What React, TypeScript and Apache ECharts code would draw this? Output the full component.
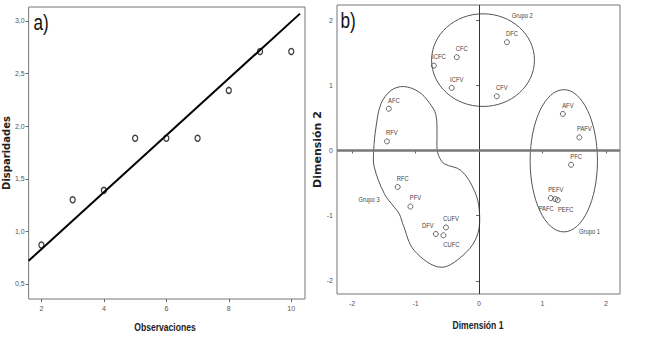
import React, { useEffect, useRef } from "react";
import * as echarts from "echarts";

// ---- Panel a) data ----
const obsX = [2, 3, 4, 5, 6, 7, 8, 9, 10];
const disparidades = [0.87, 1.3, 1.39, 1.885, 1.885, 1.885, 2.34, 2.71, 2.71];
const fitX = [1.59, 10.28];
const fitY = [0.72, 3.07];
const leftXTicks = [2, 4, 6, 8, 10];
const leftYTicks = [0.5, 1.0, 1.5, 2.0, 2.5, 3.0];

// ---- Panel b) data ----
const stimNames = ["DFC", "CFC", "ICFC", "ICFV", "CFV", "AFC", "RFV", "AFV", "PAFV", "PFC", "RFC", "PFV", "DFV", "CUFV", "CUFC", "PEFV", "PAFC", "PEFC"];
const dim1 = [0.44, -0.35, -0.71, -0.43, 0.28, -1.42, -1.45, 1.32, 1.58, 1.45, -1.28, -1.08, -0.68, -0.52, -0.56, 1.13, 1.2, 1.24];
const dim2 = [1.66, 1.43, 1.3, 0.96, 0.83, 0.64, 0.14, 0.56, 0.2, -0.22, -0.56, -0.86, -1.28, -1.18, -1.3, -0.73, -0.745, -0.76];
const rightTicks = [-2, -1, 0, 1, 2];

const groupNames = ["Grupo 1", "Grupo 2", "Grupo 3"];
const groupLabelX = [1.74, 0.68, -1.73];
const groupLabelY = [-1.23, 2.07, -0.75];

// ellipses: Grupo 1, Grupo 2 (center x, center y, radius x, radius y)
const ellipseCX = [1.335, 0.063];
const ellipseCY = [-0.158, 1.385];
const ellipseRX = [0.53, 0.81];
const ellipseRY = [1.09, 0.71];

// Grupo 3 outline
const g3X = [-1.186, -0.95, -0.79, -0.68, -0.661, -0.661, -0.625, -0.546, -0.283, -0.074, 0.005, -0.02, -0.205, -0.598, -1.019, -1.2, -1.255, -1.334, -1.49, -1.649, -1.658, -1.622, -1.543, -1.386];
const g3Y = [0.98, 0.9, 0.74, 0.55, 0.2, 0.026, -0.103, -0.204, -0.307, -0.613, -0.92, -1.278, -1.564, -1.79, -1.534, -1.124, -0.971, -0.87, -0.664, -0.256, 0, 0.357, 0.716, 0.92];

const FONT = "'Liberation Sans', Arial, sans-serif";
const SQUEEZE = 0.78;

const labelOffsets: Record<string, number[]> = {
  DFV: [-8, -9],
  CUFC: [8, 9],
  PAFC: [-9, 9],
  PEFC: [8, 9],
};

export default function App() {
  const ref = useRef<HTMLDivElement>(null);
  useEffect(() => {
    if (!ref.current) return;
    const chart = echarts.init(ref.current, undefined, { renderer: "svg" });
    const tickLabel = { fontSize: 7, color: "#555", fontFamily: FONT };
    const textEl = (text: string, x: number, y: number, size: number, bold: boolean, fill: string) => ({
      type: "text",
      x, y, scaleX: SQUEEZE,
      style: { text, fontSize: size, fontWeight: bold ? "bold" : "normal", fill, fontFamily: FONT, align: "center", verticalAlign: "middle" },
    });
    const option: any = {
      animation: false,
      backgroundColor: "#fff",
      grid: [
        { left: 25, top: 7, width: 280, height: 292, show: true, borderColor: "#777", borderWidth: 1, backgroundColor: "transparent" },
        { left: 337, top: 5, width: 283, height: 289, show: true, borderColor: "#777", borderWidth: 1, backgroundColor: "transparent" },
      ],
      xAxis: [
        {
          gridIndex: 0, type: "value", min: 1.59, max: 10.44,
          axisLine: { show: false }, splitLine: { show: false },
          axisTick: { show: true, customValues: leftXTicks, length: 3, lineStyle: { color: "#666" } },
          axisLabel: { ...tickLabel, customValues: leftXTicks, margin: 6 },
        },
        {
          gridIndex: 1, type: "value", min: -2.236, max: 2.22,
          axisLine: { show: false }, splitLine: { show: false },
          axisTick: { show: true, customValues: rightTicks, length: 3, lineStyle: { color: "#666" } },
          axisLabel: { ...tickLabel, customValues: rightTicks, margin: 6 },
        },
      ],
      yAxis: [
        {
          gridIndex: 0, type: "value", min: 0.357, max: 3.133,
          axisLine: { show: false }, splitLine: { show: false },
          axisTick: { show: true, customValues: leftYTicks, length: 3, lineStyle: { color: "#666" } },
          axisLabel: { ...tickLabel, customValues: leftYTicks, margin: 4, formatter: (v: number) => v.toFixed(1).replace(".", ",") },
          name: "Disparidades", nameLocation: "middle", nameGap: 13,
          nameTextStyle: { fontSize: 10, fontWeight: "bold", color: "#222", fontFamily: "'DejaVu Sans', sans-serif" },
        },
        {
          gridIndex: 1, type: "value", min: -2.2, max: 2.23,
          axisLine: { show: false }, splitLine: { show: false },
          axisTick: { show: true, customValues: rightTicks, length: 3, lineStyle: { color: "#666" } },
          axisLabel: { ...tickLabel, customValues: rightTicks, margin: 4 },
          name: "Dimensión 2", nameLocation: "middle", nameGap: 10,
          nameTextStyle: { fontSize: 11, fontWeight: "bold", color: "#222", fontFamily: "'DejaVu Sans', sans-serif" },
        },
      ],
      graphic: [
        textEl("a)", 41, 22, 22, false, "#111"),
        textEl("b)", 348, 20, 22, false, "#111"),
        textEl("Observaciones", 165, 327, 11, true, "#222"),
        textEl("Dimensión 1", 478, 325, 11, true, "#222"),
      ],
      series: [
        {
          type: "line", xAxisIndex: 0, yAxisIndex: 0,
          data: fitX.map((x, i) => [x, fitY[i]]),
          symbol: "none", lineStyle: { color: "#000", width: 2 },
        },
        {
          type: "scatter", xAxisIndex: 0, yAxisIndex: 0,
          data: obsX.map((x, i) => [x, disparidades[i]]),
          symbol: "circle", symbolSize: [5, 6],
          itemStyle: { color: "rgba(255,255,255,0)", borderColor: "#111", borderWidth: 1.4 },
        },
        {
          type: "custom", xAxisIndex: 1, yAxisIndex: 1,
          data: ellipseCX.map((cx, i) => [cx, ellipseCY[i], ellipseRX[i], ellipseRY[i]]),
          encode: { x: 0, y: 1 },
          renderItem: (params: any, api: any) => {
            const c = api.coord([api.value(0), api.value(1)]);
            const s = api.size([api.value(2), api.value(3)]);
            return {
              type: "ellipse",
              shape: { cx: c[0], cy: c[1], rx: s[0], ry: s[1] },
              style: { fill: "none", stroke: "#555", lineWidth: 1 },
            };
          },
          silent: true,
        },
        {
          type: "custom", xAxisIndex: 1, yAxisIndex: 1,
          data: [[g3X[0], g3Y[0]]],
          encode: { x: 0, y: 1 },
          renderItem: (params: any, api: any) => {
            const pts = g3X.map((x, i) => api.coord([x, g3Y[i]]));
            return {
              type: "polygon",
              shape: { points: pts, smooth: 0.35 },
              style: { fill: "none", stroke: "#555", lineWidth: 1 },
            };
          },
          silent: true,
        },
        {
          type: "custom", xAxisIndex: 1, yAxisIndex: 1,
          data: groupNames.map((n, i) => [groupLabelX[i], groupLabelY[i]]),
          encode: { x: 0, y: 1 },
          renderItem: (params: any, api: any) => {
            const c = api.coord([api.value(0), api.value(1)]);
            return textEl(groupNames[params.dataIndex], c[0], c[1], 7.5, false, "#444");
          },
          silent: true,
        },
        {
          type: "custom", xAxisIndex: 1, yAxisIndex: 1,
          data: stimNames.map((n, i) => [dim1[i], dim2[i]]),
          encode: { x: 0, y: 1 },
          renderItem: (params: any, api: any) => {
            const c = api.coord([api.value(0), api.value(1)]);
            const name = stimNames[params.dataIndex];
            const off = labelOffsets[name] || [5, -9];
            return textEl(name, c[0] + off[0], c[1] + off[1], 7.5, false, "#444");
          },
          silent: true,
        },
        {
          type: "scatter", xAxisIndex: 1, yAxisIndex: 1,
          data: stimNames.map((n, i) => ({ name: n, value: [dim1[i], dim2[i]] })),
          symbol: "circle", symbolSize: 5,
          itemStyle: { color: "rgba(255,255,255,0)", borderColor: "#444", borderWidth: 1 },
          markLine: {
            silent: true, symbol: ["none", "none"], label: { show: false },
            data: [
              { xAxis: 0, lineStyle: { color: "#333", width: 1, type: "solid" } },
              { yAxis: 0, lineStyle: { color: "#777", width: 2.5, type: "solid" } },
            ],
          },
        },
      ],
    };
    chart.setOption(option);
    return () => chart.dispose();
  }, []);
  return <div ref={ref} style={{ position: "absolute", left: 0, top: 0, width: 645, height: 354 }} />;
}
